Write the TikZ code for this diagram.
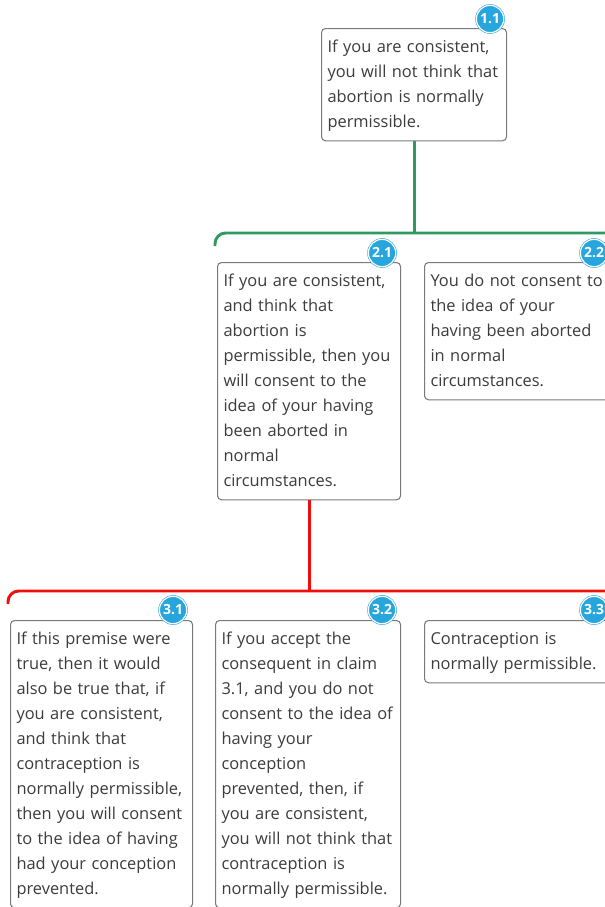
\documentclass[tikz,border=0pt]{standalone}
\usepackage{fontspec}
\setmainfont{Open Sans}
\definecolor{txtgrey}{HTML}{3C3C3C}
\definecolor{boxgrey}{HTML}{7A7A7A}
\definecolor{badgeblue}{HTML}{27A6DE}
\definecolor{linkgreen}{HTML}{2E9A62}
\definecolor{linkred}{HTML}{F20D0D}
\tikzset{
  claim/.style={draw=boxgrey, line width=0.8pt, rounded corners=3pt, fill=white,
    text=txtgrey, align=left, anchor=north west, inner xsep=4.5pt, inner ysep=4.6pt,
    text width=#1, font=\fontsize{12.3}{18.75}\selectfont,
    execute at begin node={\hyphenpenalty=10000\strut}, execute at end node=\strut},
  badge/.style={circle, fill=badgeblue, draw=badgeblue, double=white,
    double distance=0.9pt, inner sep=0pt, minimum size=20.5pt, text=white,
    font=\fontsize{10.5}{10.5}\selectfont\bfseries},
  link/.style={line width=2.2pt, rounded corners=8pt}
}
\begin{document}
\begin{tikzpicture}[x=0.75pt,y=-0.75pt]
	\useasboundingbox (0,0) rectangle (604,907);
	% claims
	\node[claim=129.75pt] (n11) at (321,28) {If you are consistent,\\you will not think that\\abortion is normally\\permissible.};
	\node[claim=128.25pt] (n21) at (217,262) {If you are consistent,\\and think that\\abortion is\\permissible, then you\\will consent to the\\idea of your having\\been aborted in\\normal\\circumstances.};
	\node[claim=132pt] (n22) at (424,262) {You do not consent to\\the idea of your\\having been aborted\\in normal\\circumstances.};
	\node[claim=127.5pt] (n31) at (10,620) {If this premise were\\true, then it would\\also be true that, if\\you are consistent,\\and think that\\contraception is\\normally permissible,\\then you will consent\\to the idea of having\\had your conception\\prevented.};
	\node[claim=129.75pt] (n32) at (215,620) {If you accept the\\consequent in claim\\3.1, and you do not\\consent to the idea of\\having your\\conception\\prevented, then, if\\you are consistent,\\you will not think that\\contraception is\\normally permissible.};
	\node[claim=132pt] (n33) at (424,620) {Contraception is\\normally permissible.};
	% numbers
	\node[badge] (b11) at ([shift={(-17,-9)}]n11.north east) {1.1};
	\node[badge] (b21) at ([shift={(-19,-9)}]n21.north east) {2.1};
	\node[badge] (b22) at ([shift={(-19,-9)}]n22.north east) {2.2};
	\node[badge] (b31) at ([shift={(-20,-10)}]n31.north east) {3.1};
	\node[badge] (b32) at ([shift={(-19,-10)}]n32.north east) {3.2};
	\node[badge] (b33) at ([shift={(-19,-10)}]n33.north east) {3.3};
	% links
	\coordinate (gbar) at (0,233);
	\coordinate (gl) at (215,246);
	\coordinate (gr) at (616,246);
	\draw[link,linkgreen] (n11.south) -- (n11.south |- gbar);
	\draw[link,linkgreen] (gl) -- (gl |- gbar) -- (gr |- gbar) -- (gr);
	\coordinate (rbar) at (0,591);
	\coordinate (rl) at (8,604);
	\coordinate (rr) at (616,604);
	\draw[link,linkred] (n21.south) -- (n21.south |- rbar);
	\draw[link,linkred] (rl) -- (rl |- rbar) -- (rr |- rbar) -- (rr);
\end{tikzpicture}
\end{document}
